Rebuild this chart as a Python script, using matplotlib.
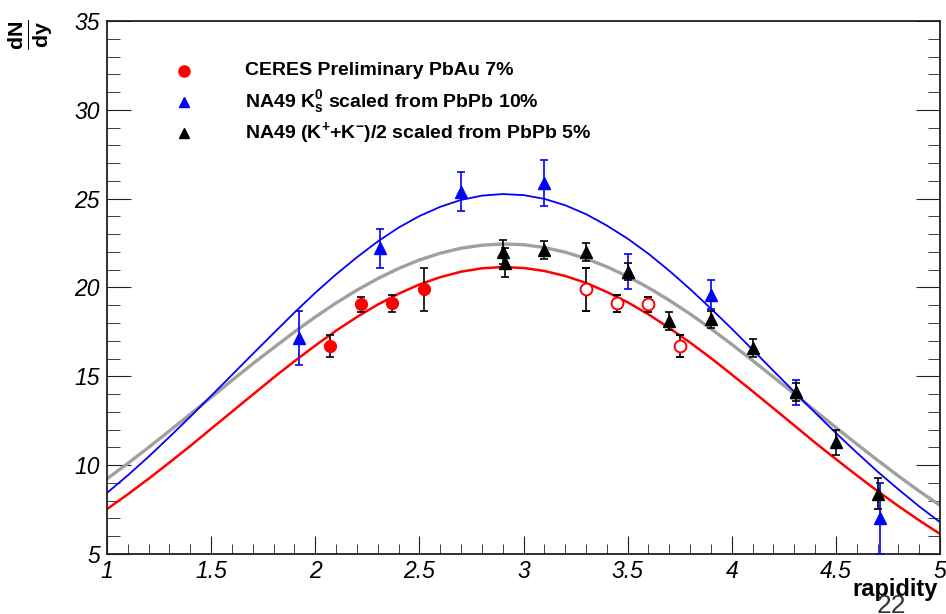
import matplotlib
matplotlib.use('Agg')
import matplotlib.pyplot as plt
from matplotlib.ticker import MultipleLocator

plt.rcParams['font.family'] = 'Liberation Sans'
plt.rcParams['mathtext.fontset'] = 'custom'
plt.rcParams['mathtext.rm'] = 'Liberation Sans:bold'
plt.rcParams['mathtext.it'] = 'Liberation Sans:bold'
plt.rcParams['mathtext.bf'] = 'Liberation Sans:bold'

# CERES PbAu 7% (measured, and reflected around midrapidity)
ceres_y = [2.07, 2.22, 2.37, 2.52]
ceres_n = [16.7, 19.05, 19.1, 19.9]
ceres_e = [0.6, 0.42, 0.48, 1.2]
ceres_refl_y = [3.30, 3.45, 3.60, 3.75]
ceres_refl_n = [19.9, 19.1, 19.05, 16.7]
ceres_refl_e = [1.2, 0.48, 0.42, 0.6]

# NA49 K0s scaled from PbPb 10%
k0s_y = [1.92, 2.31, 2.70, 3.10, 3.50, 3.90, 4.31, 4.71]
k0s_n = [17.15, 22.2, 25.4, 25.9, 20.9, 19.6, 14.1, 7.0]
k0s_e = [1.5, 1.1, 1.1, 1.3, 1.0, 0.8, 0.7, 2.0]

# NA49 (K+ + K-)/2 scaled from PbPb 5%
kch_y = [2.90, 2.91, 3.10, 3.30, 3.50, 3.70, 3.90, 4.10, 4.31, 4.50, 4.70]
kch_n = [22.0, 21.4, 22.1, 22.0, 20.9, 18.1, 18.2, 16.6, 14.1, 11.3, 8.4]
kch_e = [0.7, 0.8, 0.5, 0.5, 0.5, 0.5, 0.5, 0.5, 0.5, 0.7, 0.87]

# fit curves (every 0.1 in rapidity)
fit_y = [1.0, 1.1, 1.2, 1.3, 1.4, 1.5, 1.6, 1.7, 1.8, 1.9, 2.0,
         2.1, 2.2, 2.3, 2.4, 2.5, 2.6, 2.7, 2.8, 2.9, 3.0,
         3.1, 3.2, 3.3, 3.4, 3.5, 3.6, 3.7, 3.8, 3.9, 4.0,
         4.1, 4.2, 4.3, 4.4, 4.5, 4.6, 4.7, 4.8, 4.9, 5.0]
ceres_fit = [7.53, 8.36, 9.24, 10.15, 11.08, 12.05, 13.01, 13.97, 14.93, 15.85, 16.73,
             17.57, 18.34, 19.04, 19.65, 20.17, 20.58, 20.89, 21.08, 21.15, 21.10,
             20.93, 20.65, 20.26, 19.75, 19.17, 18.49, 17.72, 16.90, 16.03, 15.10,
             14.16, 13.20, 12.24, 11.27, 10.34, 9.43, 8.54, 7.70, 6.89, 6.13]
k0s_fit = [8.44, 9.43, 10.48, 11.59, 12.73, 13.90, 15.08, 16.26, 17.43, 18.59, 19.70,
           20.74, 21.70, 22.59, 23.37, 24.02, 24.54, 24.93, 25.17, 25.26, 25.20,
           24.99, 24.63, 24.13, 23.49, 22.75, 21.90, 20.94, 19.91, 18.81, 17.68,
           16.50, 15.31, 14.13, 12.96, 11.81, 10.71, 9.64, 8.64, 7.68, 6.79]
kch_fit = [9.23, 10.10, 11.00, 11.93, 12.87, 13.82, 14.77, 15.71, 16.61, 17.50, 18.34,
           19.13, 19.85, 20.50, 21.07, 21.55, 21.93, 22.21, 22.38, 22.45, 22.41,
           22.25, 21.99, 21.63, 21.17, 20.62, 19.99, 19.28, 18.51, 17.68, 16.80,
           15.89, 14.96, 14.02, 13.06, 12.12, 11.19, 10.28, 9.39, 8.54, 7.74]

xtick_vals = [1, 1.5, 2, 2.5, 3, 3.5, 4, 4.5, 5]
xtick_labels = ['1', '1.5', '2', '2.5', '3', '3.5', '4', '4.5', '5']
ytick_vals = [5, 10, 15, 20, 25, 30, 35]

fig = plt.figure(figsize=(9.46, 6.14), dpi=100, facecolor='white')
ax = fig.add_axes([107/946, 1-554/614, 833/946, 533/614])

ax.plot(fit_y, kch_fit, color='#a0a0a0', lw=2.4, zorder=2)
ax.plot(fit_y, k0s_fit, color='#0000ff', lw=1.3, zorder=2)
ax.plot(fit_y, ceres_fit, color='#ff0000', lw=1.8, zorder=2)

ax.errorbar(ceres_y, ceres_n, ceres_e, fmt='o', color='red', ms=8.5,
            ecolor='black', elinewidth=1.2, capsize=3, capthick=1.2, zorder=4)
ax.errorbar(ceres_refl_y, ceres_refl_n, ceres_refl_e, fmt='o', color='red', ms=8.5,
            mfc='white', mew=1.4, ecolor='black', elinewidth=1.2, capsize=3,
            capthick=1.2, zorder=4)
ax.errorbar(k0s_y, k0s_n, k0s_e, fmt='^', color='#0000ff', ms=8.5,
            elinewidth=1.2, capsize=3, capthick=1.2, zorder=3)
ax.errorbar(kch_y, kch_n, kch_e, fmt='^', color='black', ms=8,
            elinewidth=1.2, capsize=3, capthick=1.2, zorder=5)

ax.set_xlim(1, 5)
ax.set_ylim(5, 35)
ax.set_xticks(xtick_vals)
ax.set_xticklabels(xtick_labels)
ax.set_yticks(ytick_vals)
ax.set_yticklabels([str(v) for v in ytick_vals])
ax.xaxis.set_minor_locator(MultipleLocator(0.1))
ax.yaxis.set_minor_locator(MultipleLocator(1))
ax.tick_params(axis='y', which='both', direction='in', left=True, right=True,
               labelsize=16.5, pad=5, color='#202020')
ax.tick_params(axis='y', which='major', length=17)
ax.tick_params(axis='y', which='minor', length=9)
ax.tick_params(axis='x', which='both', direction='in', top=False,
               labelsize=16.5, pad=4, color='#202020')
ax.tick_params(axis='x', which='major', length=13)
ax.tick_params(axis='x', which='minor', length=7)
for lbl in ax.get_xticklabels() + ax.get_yticklabels():
    lbl.set_style('italic')
for s in ax.spines.values():
    s.set_linewidth(1.3)
    s.set_color('#202020')

ax.set_xlabel('rapidity', loc='right', fontsize=17, fontweight='bold')
ax.xaxis.set_label_coords(1 - 2/833, -0.045)

# legend
lx, tx = (184-107)/833, (245-107)/833
rows = [(554-71)/533, (554-102)/533, (554-133)/533]
ax.plot([lx], [rows[0]], 'o', color='red', ms=8, transform=ax.transAxes, clip_on=False)
ax.plot([lx], [rows[1]], '^', color='#0000ff', ms=7.5, transform=ax.transAxes, clip_on=False)
ax.plot([lx], [rows[2]], '^', color='black', ms=7, transform=ax.transAxes, clip_on=False)
labels = ['CERES Preliminary PbAu 7%',
          r'NA49 K$_{s}^{0}$ scaled from PbPb 10%',
          r'NA49 (K$^{+}$+K$^{-}$)/2 scaled from PbPb 5%']
for r, t in zip(rows, labels):
    ax.text(tx, r, t, transform=ax.transAxes, fontsize=14, fontweight='bold',
            ha='left', va='center')

fig.text(30/946, 1-35/614, r'$\frac{dN}{dy}$', rotation=90, fontsize=22,
         ha='center', va='center')
fig.text(891/946, 1-594/614, '22', fontsize=19, color='#333333', ha='center', va='top')

fig.savefig('out.png', dpi=100, facecolor='white')
